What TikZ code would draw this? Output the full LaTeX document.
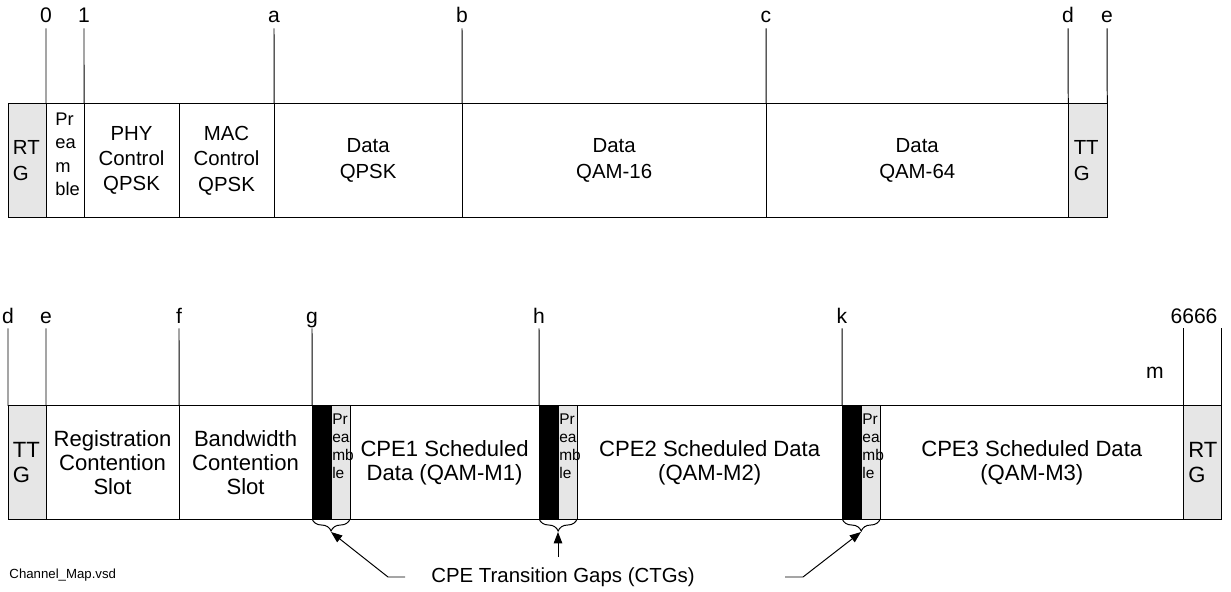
\documentclass[tikz,border=0pt]{standalone}
\usepackage{fontspec}
\setmainfont{Liberation Sans}
\usetikzlibrary{positioning, arrows.meta, decorations.pathreplacing}
\definecolor{gapgray}{HTML}{E6E6E6}

\begin{document}
\begin{tikzpicture}[x=0.025cm, y=-0.025cm, line width=0.7pt,
    cell/.style={rectangle, draw, minimum height=2.825cm, inner sep=0pt, outer sep=0pt,
                 align=center, font=\fontsize{14.5}{18}\selectfont},
    low/.style={font=\fontsize{15.7}{17.3}\selectfont},
    guard/.style={cell, fill=gapgray, minimum width=0.95cm, text width=0.7cm, align=left},
    dark/.style={cell, fill=black, minimum width=0.475cm},
    pre/.style={cell, fill=gapgray, minimum width=0.475cm},
    pretext/.style={anchor=north west, align=left, inner ysep=5pt, inner xsep=0.5pt,
                    font=\fontsize{11}{13}\selectfont},
    tick/.style={font=\fontsize{15}{18}\selectfont, text height=11pt, text depth=0pt,
                 inner ysep=3.5pt, anchor=base},
    gapbrace/.style={decorate, decoration={brace, mirror, amplitude=0.3cm}},
    gaparrow/.style={-{Triangle[length=8pt,width=6pt]}}]
    \useasboundingbox (0,0) rectangle (1231,592);

    % downlink frame
    \node (rtg1) at (27,160.5) [guard] {RT\\G};
    \node (pre1) [cell, minimum width=0.95cm, right=0pt of rtg1] {};
    \node (phy) [cell, minimum width=2.375cm, right=0pt of pre1] {PHY\\Control\\QPSK};
    \node (mac) [cell, minimum width=2.375cm, right=0pt of phy] {MAC\\Control\\QPSK};
    \node (qpsk) [cell, minimum width=4.7cm, right=0pt of mac] {Data\\QPSK};
    \node (qam16) [cell, minimum width=7.6cm, right=0pt of qpsk] {Data\\QAM-16};
    \node (qam64) [cell, minimum width=7.55cm, right=0pt of qam16] {Data\\QAM-64};
    \node (ttg1) [guard, minimum width=0.975cm, right=0pt of qam64] {TT\\G};
    \node (pre1txt) at (pre1.north west) [pretext, inner xsep=6.4pt, inner ysep=5.7pt,
        font=\fontsize{13}{16.8}\selectfont] {Pr\\ea\\m\\ble};

    \node (t0) at (46,23) [tick] {0};
    \node (t1) at (84,23) [tick] {1};
    \node (ta) at (274,23) [tick] {a};
    \node (tb) at (462,23) [tick] {b};
    \node (tc) at (766,23) [tick] {c};
    \node (td) at (1068,23) [tick] {d};
    \node (te) at (1107,23) [tick] {e};
    \draw (t0.south) -- (pre1.north west);
    \draw (t1.south) -- (phy.north west);
    \draw (ta.south) -- (qpsk.north west);
    \draw (tb.south) -- (qam16.north west);
    \draw (tc.south) -- (qam64.north west);
    \draw (td.south) -- (ttg1.north west);
    \draw (te.south) -- (ttg1.north east);

    % uplink frame
    \node (ttg2) at (27,462.5) [guard, low] {TT\\G};
    \node (reg) [cell, low, minimum width=3.325cm, right=0pt of ttg2] {Registration\\Contention\\Slot};
    \node (bw) [cell, low, minimum width=3.325cm, right=0pt of reg] {Bandwidth\\Contention\\Slot};
    \node (blk1) [dark, right=0pt of bw] {};
    \node (pre2) [pre, right=0pt of blk1] {};
    \node (cpe1) [cell, low, minimum width=4.725cm, right=0pt of pre2] {CPE1 Scheduled\\Data (QAM-M1)};
    \node (blk2) [dark, right=0pt of cpe1] {};
    \node (pre3) [pre, right=0pt of blk2] {};
    \node (cpe2) [cell, low, minimum width=6.625cm, right=0pt of pre3] {CPE2 Scheduled Data\\(QAM-M2)};
    \node (blk3) [dark, right=0pt of cpe2] {};
    \node (pre4) [pre, right=0pt of blk3] {};
    \node (cpe3) [cell, low, minimum width=7.575cm, right=0pt of pre4] {CPE3 Scheduled Data\\(QAM-M3)};
    \node (rtg2) [guard, low, right=0pt of cpe3] {RT\\G};
    \node (pre2txt) at (pre2.north west) [pretext] {Pr\\ea\\mb\\le};
    \node (pre3txt) at (pre3.north west) [pretext] {Pr\\ea\\mb\\le};
    \node (pre4txt) at (pre4.north west) [pretext] {Pr\\ea\\mb\\le};

    \node (bd) at (8,323) [tick] {d};
    \node (be) at (46,323) [tick] {e};
    \node (bf) at (179,323) [tick] {f};
    \node (bg) at (312,323) [tick] {g};
    \node (bh) at (539,323) [tick] {h};
    \node (bk) at (842,323) [tick] {k};
    \node (b6666) at (1194,323) [tick] {6666};
    \node (bm) at (1155,378) [tick] {m};
    \draw (bd.south) -- (ttg2.north west);
    \draw (be.south) -- (reg.north west);
    \draw (bf.south) -- (bw.north west);
    \draw (bg.south) -- (blk1.north west);
    \draw (bh.south) -- (blk2.north west);
    \draw (bk.south) -- (blk3.north west);
    \draw (rtg2.north west |- b6666.south) -- (rtg2.north west);
    \draw (rtg2.north east |- b6666.south) -- (rtg2.north east);

    % transition gaps
    \draw[gapbrace] (blk1.south west) -- (pre2.south east);
    \draw[gapbrace] (blk2.south west) -- (pre3.south east);
    \draw[gapbrace] (blk3.south west) -- (pre4.south east);
    \coordinate (tip1) at (331,532);
    \coordinate (tip2) at (558,532);
    \coordinate (tip3) at (861,532);

    \node (ctgs) at (563,582) [anchor=base, font=\fontsize{14.5}{17}\selectfont] {CPE Transition Gaps (CTGs)};
    \coordinate (from1) at (405,577);
    \coordinate (bend1) at (388,577);
    \coordinate (from2) at (558,557);
    \coordinate (from3) at (785,577);
    \coordinate (bend3) at (803,577);
    \draw[gaparrow] (from1) -- (bend1) -- (tip1);
    \draw[gaparrow] (from2) -- (tip2);
    \draw[gaparrow] (from3) -- (bend3) -- (tip3);

    \node (fname) at (9,578) [anchor=base west, inner sep=0pt, font=\fontsize{9.4}{11}\selectfont] {Channel\_Map.vsd};
\end{tikzpicture}
\end{document}
